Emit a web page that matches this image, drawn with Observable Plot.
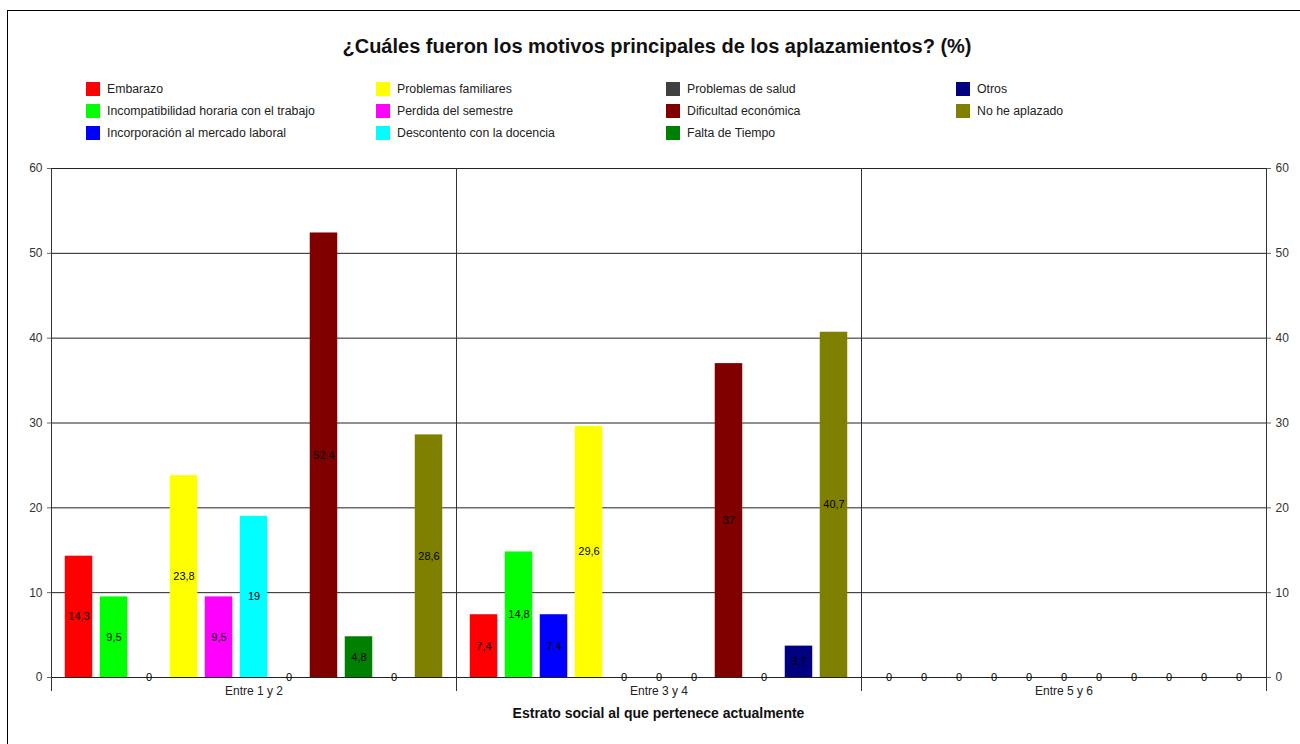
<!DOCTYPE html>
<html><head><meta charset="utf-8">
<script src="https://cdn.jsdelivr.net/npm/d3@7"></script>
<script src="https://cdn.jsdelivr.net/npm/@observablehq/plot@0.6"></script>
<style>
body{margin:0;font-family:"Liberation Sans",Arial,sans-serif;background:#fff}
#wrap{position:relative;width:1300px;height:744px;overflow:hidden}
#border{position:absolute;left:7px;top:10px;width:1400px;height:800px;border:1px solid #000;box-sizing:border-box}
#chart{position:absolute;left:0;top:0}
#title{position:absolute;top:35px;left:0;width:1314px;text-align:center;font-weight:bold;font-size:20px;color:#111}
#xtitle{position:absolute;top:705px;left:0;width:1317px;text-align:center;font-weight:bold;font-size:14px;color:#111}
.leg{position:absolute;font-size:12.3px;color:#222;white-space:nowrap;line-height:14px}
.leg span{display:inline-block;width:14px;height:14px;vertical-align:top;margin-right:7px}
</style></head>
<body><div id="wrap"><div id="border"></div><div id="chart"></div><div id="title">¿Cuáles fueron los motivos principales de los aplazamientos? (%)</div><div id="xtitle">Estrato social al que pertenece actualmente</div><div id="legend"></div></div>
<script>
const groups = ["Entre 1 y 2", "Entre 3 y 4", "Entre 5 y 6"];
const series = ["Embarazo", "Incompatibilidad horaria con el trabajo", "Incorporación al mercado laboral", "Problemas familiares", "Perdida del semestre", "Descontento con la docencia", "Problemas de salud", "Dificultad económica", "Falta de Tiempo", "Otros", "No he aplazado"];
const colors = ["#FF0000", "#00FF00", "#0000FF", "#FFFF00", "#FF00FF", "#00FFFF", "#404040", "#800000", "#008000", "#000080", "#808000"];
const valuesG1 = [14.3, 9.5, 0, 23.8, 9.5, 19, 0, 52.4, 4.8, 0, 28.6];
const valuesG2 = [7.4, 14.8, 7.4, 29.6, 0, 0, 0, 37, 0, 3.7, 40.7];
const valuesG3 = [0, 0, 0, 0, 0, 0, 0, 0, 0, 0, 0];
const yTicks = [0, 10, 20, 30, 40, 50, 60];

const allValues = [valuesG1, valuesG2, valuesG3];
const data = groups.flatMap((g, gi) => series.map((s, si) => ({group: g, series: s, value: allValues[gi][si]})));

// legend (column-major, 3 rows)
const legend = document.getElementById("legend");
series.forEach((s, i) => {
  const col = Math.floor(i / 3), row = i % 3;
  const d = document.createElement("div");
  d.className = "leg";
  d.style.left = (86 + col * 290) + "px";
  d.style.top = (82 + row * 22) + "px";
  d.innerHTML = `<span style="background:${colors[i]}"></span>${s}`;
  legend.appendChild(d);
});

const chart = Plot.plot({
  width: 1300, height: 744,
  marginTop: 168, marginBottom: 67, marginLeft: 51, marginRight: 34,
  style: {fontFamily: "Liberation Sans, Arial, sans-serif", fontSize: "12px", color: "#222", background: "transparent"},
  fx: {domain: groups, padding: 0, label: null, round: false},
  x: {domain: series, paddingInner: 0.214, paddingOuter: 0.393, axis: null, round: false},
  y: {domain: [0, 60], label: null, axis: null},
  color: {domain: series, range: colors},
  marks: [
    Plot.ruleY(yTicks, {stroke: "#222", strokeWidth: 1}),
    Plot.frame({anchor: "left", insetBottom: -13, stroke: "#333"}),
    Plot.frame({anchor: "right", insetBottom: -13, stroke: "#333"}),
    Plot.barY(data, {fx: "group", x: "series", y: "value", fill: "series"}),
    Plot.text(data, {fx: "group", x: "series", y: d => d.value / 2, text: d => String(d.value).replace(".", ","), fill: "#000", fontSize: 11}),
    Plot.axisY({anchor: "left", ticks: yTicks, tickSize: 4, tickPadding: 5, label: null, stroke: "#666", fill: "#333"}),
    Plot.axisY({anchor: "right", ticks: yTicks, tickSize: 4, tickPadding: 5, label: null, stroke: "#666", fill: "#333"}),
    Plot.axisFx({anchor: "bottom", tickSize: 0, tickPadding: 9, label: null, fill: "#222"})
  ]
});
document.getElementById("chart").appendChild(chart);
</script></body></html>
